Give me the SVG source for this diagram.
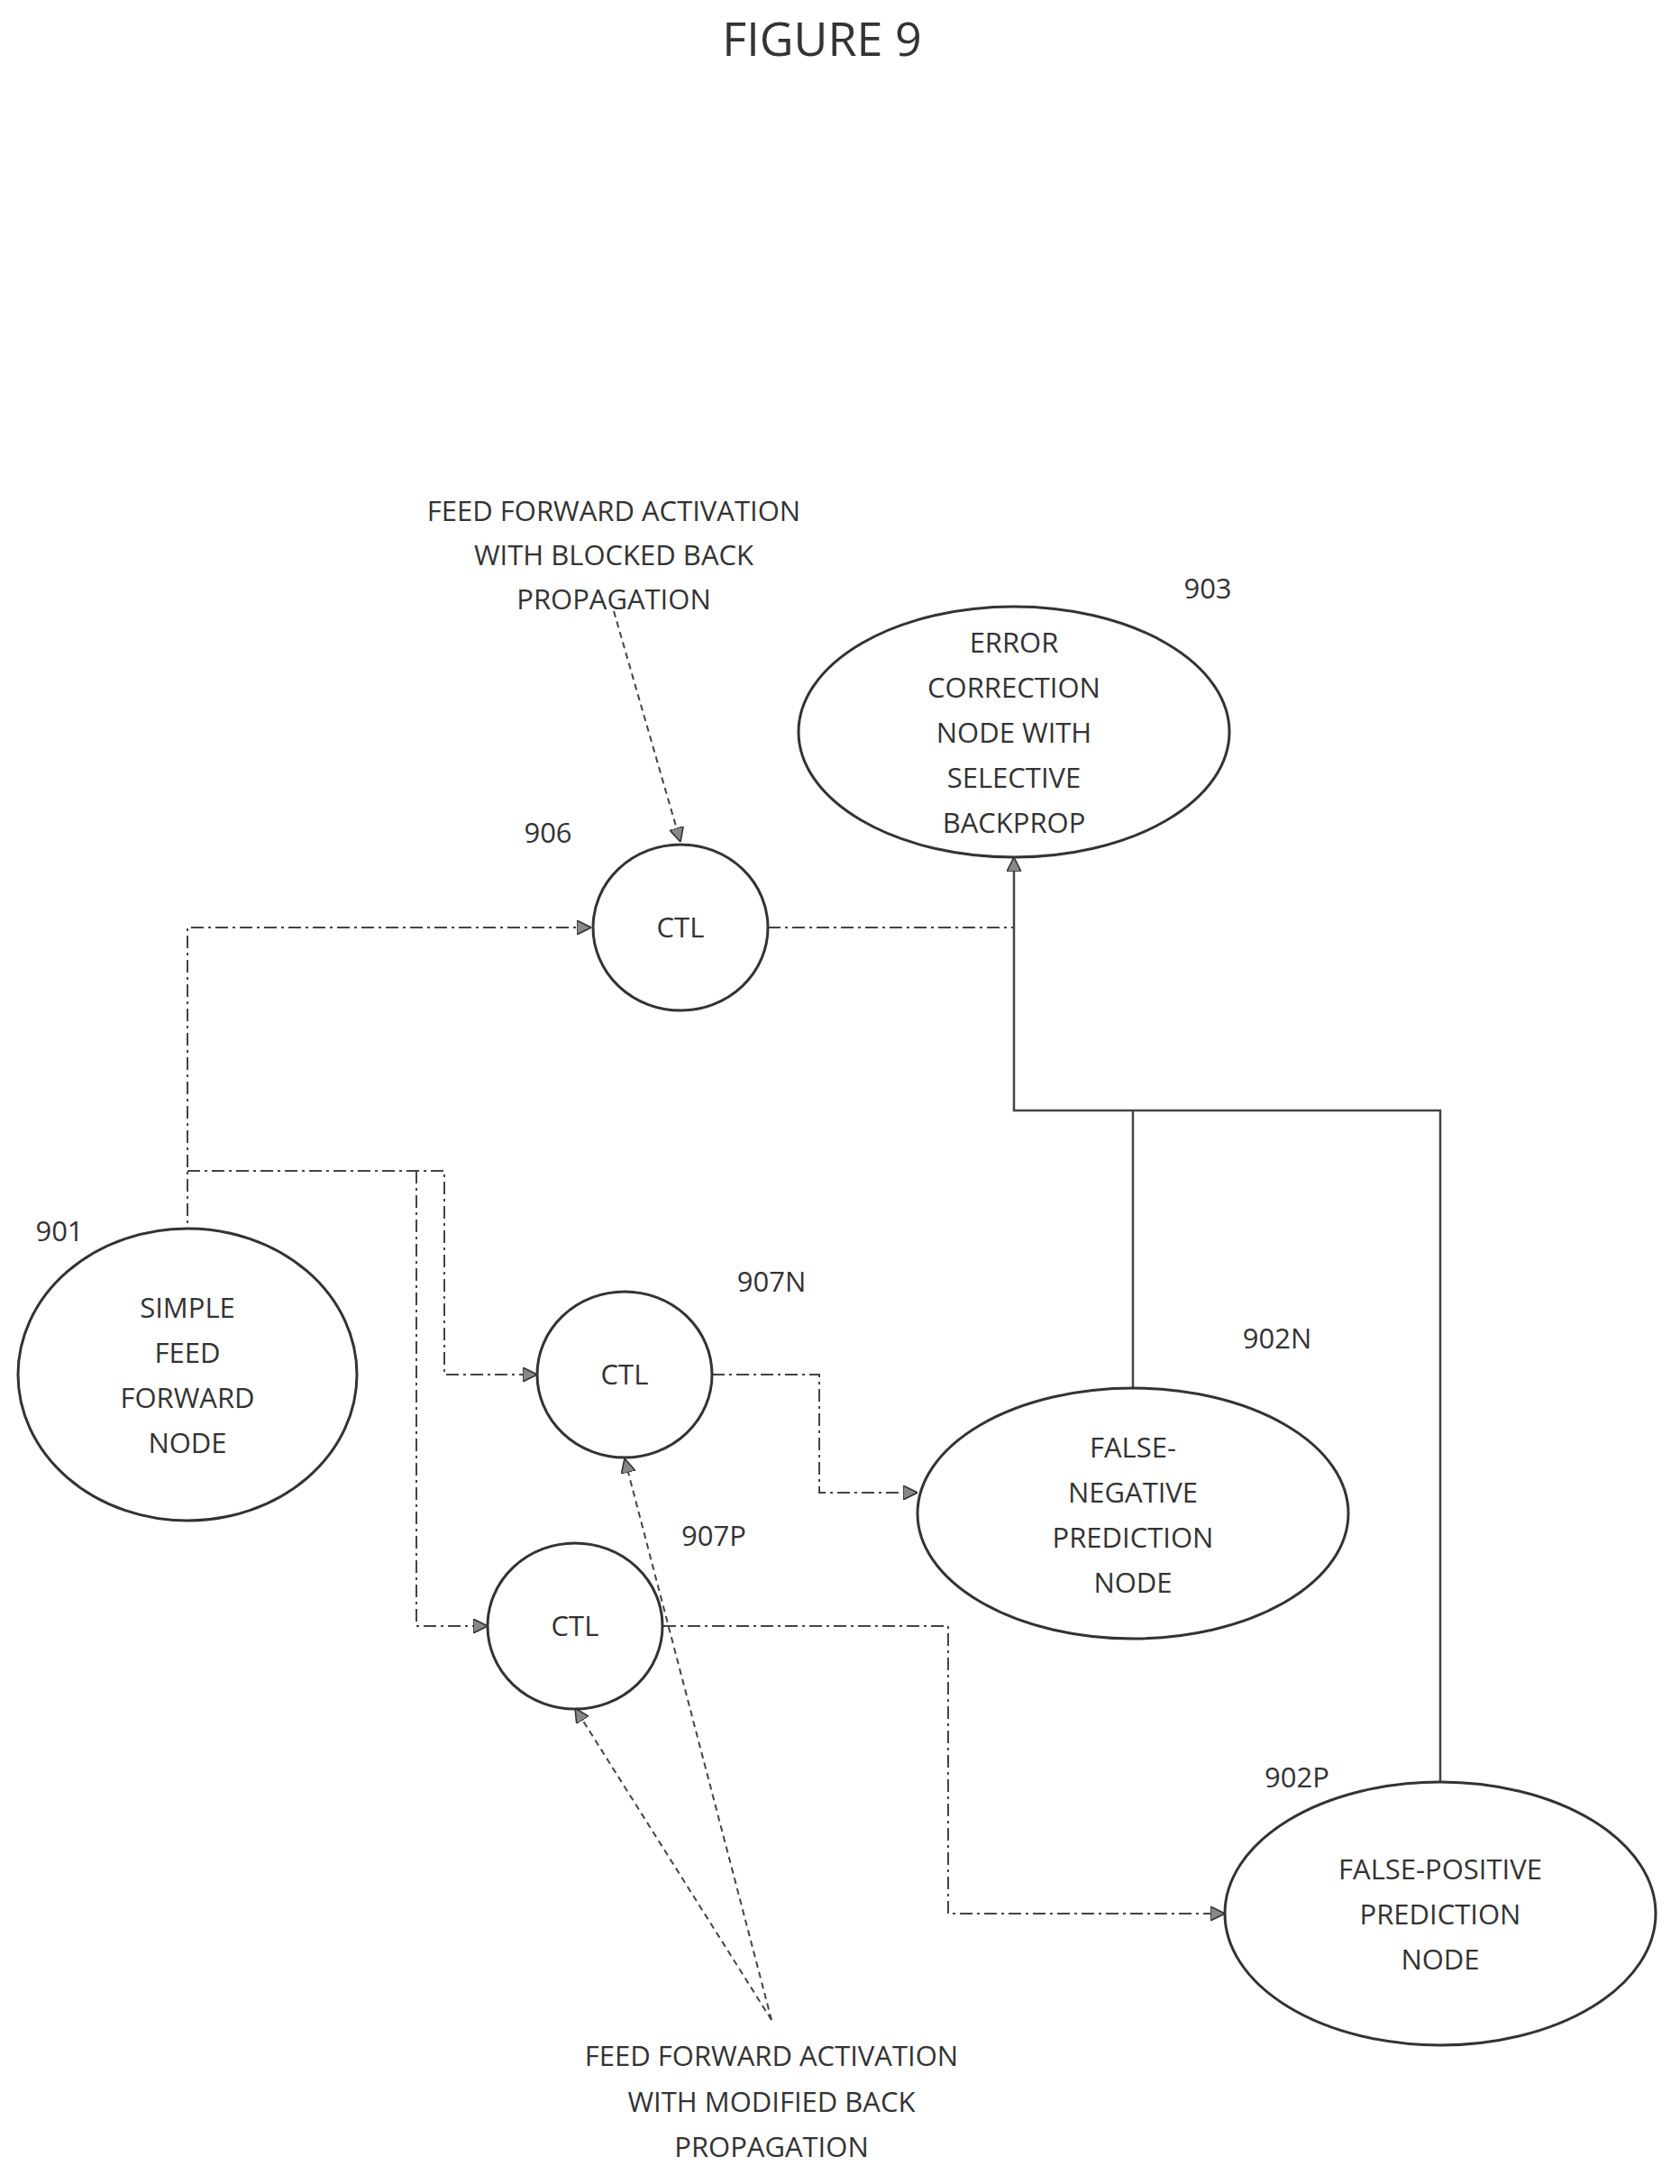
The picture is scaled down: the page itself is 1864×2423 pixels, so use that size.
<svg xmlns="http://www.w3.org/2000/svg" width="1864" height="2423" viewBox="0 0 1864 2423">
<style>
text{font-family:"Open Sans","Liberation Sans",sans-serif;fill:#333;font-size:31px;text-anchor:middle}
.t{font-size:52px}
.n{fill:#fff;stroke:#333;stroke-width:3}
.dd{fill:none;stroke:#444;stroke-width:2;stroke-dasharray:14 5 3 5}
.s{fill:none;stroke:#444;stroke-width:2.5}
.d{fill:none;stroke:#444;stroke-width:2;stroke-dasharray:7 5}
</style>
<defs>
<marker id="a" viewBox="0 0 10 10" refX="10" refY="5" markerWidth="16" markerHeight="16" markerUnits="userSpaceOnUse" orient="auto">
<path d="M0,0L10,5L0,10z" fill="#888" stroke="#333" stroke-width="1"/>
</marker>
</defs>
<rect width="1864" height="2423" fill="#fff"/>
<text class="t" x="912" y="62">FIGURE 9</text>
<g id="connectors">
<path class="dd" d="M208,1376V1029H656" marker-end="url(#a)"/>
<path class="dd" d="M208,1299H493V1525H596" marker-end="url(#a)"/>
<path class="dd" d="M462,1299V1804H541" marker-end="url(#a)"/>
<path class="dd" d="M852,1029H1125"/>
<path class="dd" d="M790,1525H909V1656H1018" marker-end="url(#a)"/>
<path class="dd" d="M736,1804H1052V2123H1359" marker-end="url(#a)"/>
<path class="s" d="M1257,1540V1232"/>
<path class="s" d="M1598,1977V1232H1125V951" marker-end="url(#a)"/>
<path class="d" d="M681,678L755,934" marker-end="url(#a)"/>
<path class="d" d="M856,2241L693,1618" marker-end="url(#a)"/>
<path class="d" d="M856,2241L638,1895" marker-end="url(#a)"/>
</g>
<g id="n903"><ellipse class="n" cx="1125" cy="812" rx="239" ry="139"/>
<text x="1125" y="724">ERROR</text><text x="1125" y="774">CORRECTION</text><text x="1125" y="824">NODE WITH</text><text x="1125" y="874">SELECTIVE</text><text x="1125" y="924">BACKPROP</text>
<text x="1340" y="664">903</text></g>
<g id="n906"><ellipse class="n" cx="755" cy="1029" rx="97" ry="92"/><text x="755" y="1040">CTL</text><text x="608" y="935">906</text></g>
<g id="n901"><ellipse class="n" cx="208" cy="1525" rx="188" ry="162"/>
<text x="208" y="1462">SIMPLE</text><text x="208" y="1512">FEED</text><text x="208" y="1562">FORWARD</text><text x="208" y="1612">NODE</text>
<text x="66" y="1377">901</text></g>
<g id="n907N"><ellipse class="n" cx="693" cy="1525" rx="97" ry="92"/><text x="693" y="1536">CTL</text><text x="856" y="1433">907N</text></g>
<g id="n907P"><ellipse class="n" cx="638" cy="1804" rx="97" ry="92"/><text x="638" y="1815">CTL</text><text x="792" y="1715">907P</text></g>
<g id="n902N"><ellipse class="n" cx="1257" cy="1679" rx="239" ry="139"/>
<text x="1257" y="1617">FALSE-</text><text x="1257" y="1667">NEGATIVE</text><text x="1257" y="1717">PREDICTION</text><text x="1257" y="1767">NODE</text>
<text x="1417" y="1496">902N</text></g>
<g id="n902P"><ellipse class="n" cx="1598" cy="2123" rx="239" ry="146"/>
<text x="1598" y="2085">FALSE-POSITIVE</text><text x="1598" y="2135">PREDICTION</text><text x="1598" y="2185">NODE</text>
<text x="1439" y="1983">902P</text></g>
<g id="ann-top"><text x="681" y="578">FEED FORWARD ACTIVATION</text><text x="681" y="627">WITH BLOCKED BACK</text><text x="681" y="676">PROPAGATION</text></g>
<g id="ann-bottom"><text x="856" y="2292">FEED FORWARD ACTIVATION</text><text x="856" y="2343">WITH MODIFIED BACK</text><text x="856" y="2393">PROPAGATION</text></g>
</svg>
